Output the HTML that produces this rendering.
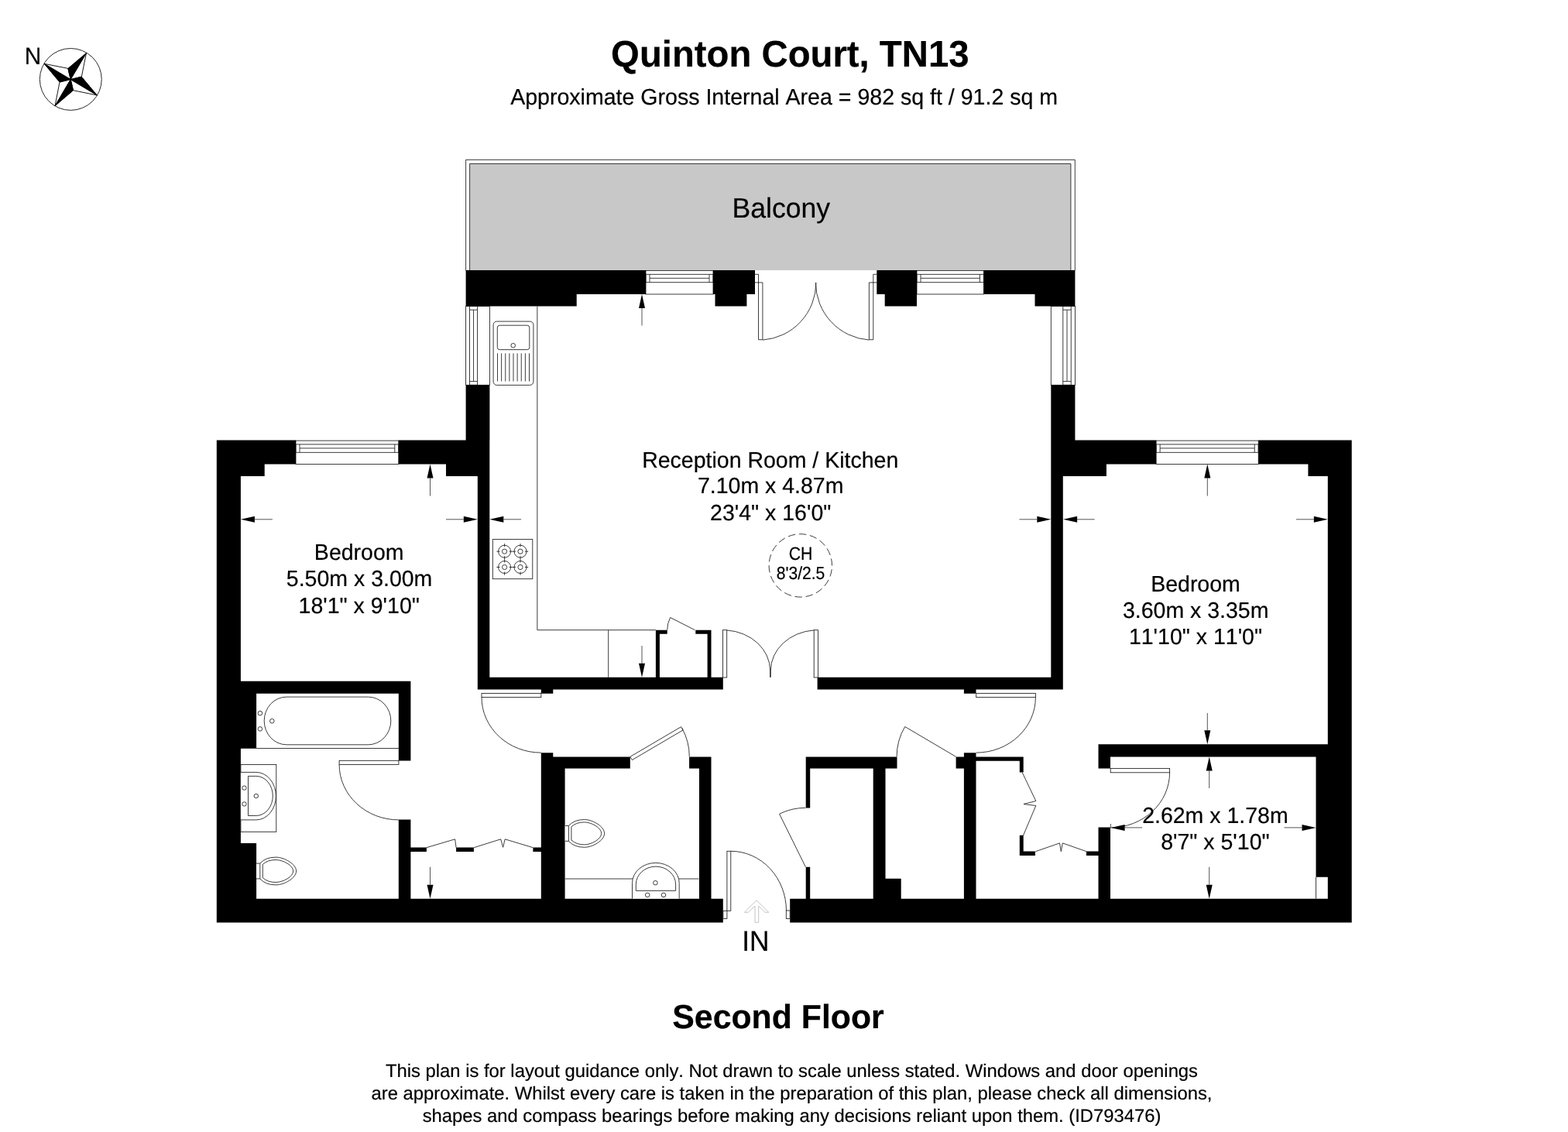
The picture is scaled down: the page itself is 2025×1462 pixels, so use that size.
<!DOCTYPE html>
<html lang="en">
<head>
<meta charset="utf-8">
<title>Quinton Court, TN13 - Floor Plan</title>
<style>
html,body{margin:0;padding:0;background:#fff;}
body{width:2025px;height:1462px;overflow:hidden;}
svg{display:block;filter:grayscale(1);}
text{font-family:"Liberation Sans",sans-serif;text-rendering:geometricPrecision;font-kerning:none;}
</style>
</head>
<body>
<svg width="2025" height="1462" viewBox="0 0 2025 1462">
<rect x="0" y="0" width="2025" height="1462" fill="#fff"/>
<rect x="606.60" y="211.50" width="776.30" height="137.50" fill="#c8c8c8" />
<path d="M601.6,349.5 L601.6,206.4 L1388.3,206.4 L1388.3,349.5" fill="none" stroke="#1a1a1a" stroke-width="0.85" />
<path d="M606.6,349.2 L606.6,211.5 L1382.9,211.5 L1382.9,349.2" fill="none" stroke="#1a1a1a" stroke-width="0.85" />
<rect x="834.00" y="349.50" width="87.00" height="30.50" fill="#fff" stroke="#1a1a1a" stroke-width="0.85" />
<rect x="834.00" y="354.30" width="87.00" height="10.40" fill="none" stroke="#1a1a1a" stroke-width="0.85" />
<line x1="839.00" y1="354.30" x2="839.00" y2="364.70" stroke="#1a1a1a" stroke-width="0.85"/>
<line x1="916.00" y1="354.30" x2="916.00" y2="364.70" stroke="#1a1a1a" stroke-width="0.85"/>
<line x1="839.00" y1="359.30" x2="916.00" y2="359.30" stroke="#1a1a1a" stroke-width="0.85"/>
<rect x="1184.00" y="349.50" width="86.40" height="30.50" fill="#fff" stroke="#1a1a1a" stroke-width="0.85" />
<rect x="1184.00" y="354.30" width="86.40" height="10.40" fill="none" stroke="#1a1a1a" stroke-width="0.85" />
<line x1="1189.00" y1="354.30" x2="1189.00" y2="364.70" stroke="#1a1a1a" stroke-width="0.85"/>
<line x1="1265.40" y1="354.30" x2="1265.40" y2="364.70" stroke="#1a1a1a" stroke-width="0.85"/>
<line x1="1189.00" y1="359.30" x2="1265.40" y2="359.30" stroke="#1a1a1a" stroke-width="0.85"/>
<rect x="382.00" y="569.10" width="132.80" height="30.40" fill="#fff" stroke="#1a1a1a" stroke-width="0.85" />
<rect x="382.00" y="573.90" width="132.80" height="10.40" fill="none" stroke="#1a1a1a" stroke-width="0.85" />
<line x1="387.00" y1="573.90" x2="387.00" y2="584.30" stroke="#1a1a1a" stroke-width="0.85"/>
<line x1="509.80" y1="573.90" x2="509.80" y2="584.30" stroke="#1a1a1a" stroke-width="0.85"/>
<line x1="387.00" y1="578.90" x2="509.80" y2="578.90" stroke="#1a1a1a" stroke-width="0.85"/>
<rect x="1493.10" y="569.10" width="132.10" height="30.40" fill="#fff" stroke="#1a1a1a" stroke-width="0.85" />
<rect x="1493.10" y="573.90" width="132.10" height="10.40" fill="none" stroke="#1a1a1a" stroke-width="0.85" />
<line x1="1498.10" y1="573.90" x2="1498.10" y2="584.30" stroke="#1a1a1a" stroke-width="0.85"/>
<line x1="1620.20" y1="573.90" x2="1620.20" y2="584.30" stroke="#1a1a1a" stroke-width="0.85"/>
<line x1="1498.10" y1="578.90" x2="1620.20" y2="578.90" stroke="#1a1a1a" stroke-width="0.85"/>
<rect x="601.60" y="395.50" width="30.80" height="101.80" fill="#fff" stroke="#1a1a1a" stroke-width="0.85" />
<rect x="606.50" y="395.50" width="10.10" height="101.80" fill="none" stroke="#1a1a1a" stroke-width="0.85" />
<line x1="606.50" y1="400.20" x2="616.60" y2="400.20" stroke="#1a1a1a" stroke-width="0.85"/>
<line x1="606.50" y1="492.60" x2="616.60" y2="492.60" stroke="#1a1a1a" stroke-width="0.85"/>
<line x1="611.55" y1="400.20" x2="611.55" y2="492.60" stroke="#1a1a1a" stroke-width="0.85"/>
<rect x="1357.30" y="395.50" width="31.10" height="101.80" fill="#fff" stroke="#1a1a1a" stroke-width="0.85" />
<rect x="1372.80" y="395.50" width="10.40" height="101.80" fill="none" stroke="#1a1a1a" stroke-width="0.85" />
<line x1="1372.80" y1="400.20" x2="1383.20" y2="400.20" stroke="#1a1a1a" stroke-width="0.85"/>
<line x1="1372.80" y1="492.60" x2="1383.20" y2="492.60" stroke="#1a1a1a" stroke-width="0.85"/>
<line x1="1378.00" y1="400.20" x2="1378.00" y2="492.60" stroke="#1a1a1a" stroke-width="0.85"/>
<path d="M601.60,349.00H834.00V380.00H601.60ZM601.60,380.00H744.70V395.50H601.60ZM921.00,349.00H975.00V380.00H921.00ZM923.50,380.00H964.40V395.50H923.50ZM1132.30,349.00H1184.00V380.00H1132.30ZM1142.70,380.00H1184.00V395.50H1142.70ZM1270.40,349.00H1388.40V380.00H1270.40ZM1336.50,380.00H1388.40V395.50H1336.50ZM601.60,497.30H632.40V568.60H601.60ZM1357.30,497.30H1388.40V568.60H1357.30ZM279.80,568.60H382.00V599.50H279.80ZM279.80,599.50H341.70V615.00H279.80ZM514.80,568.60H632.30V599.50H514.80ZM576.00,599.50H632.30V615.00H576.00ZM279.80,568.60H310.90V1191.40H279.80ZM616.80,615.00H632.30V890.40H616.80ZM616.80,874.80H933.80V890.40H616.80ZM1055.60,874.80H1372.80V890.40H1055.60ZM1357.30,568.60H1372.80V890.40H1357.30ZM1357.30,568.60H1493.10V599.50H1357.30ZM1357.30,599.50H1428.90V615.00H1357.30ZM1625.20,568.60H1745.70V599.50H1625.20ZM1689.40,599.50H1745.70V615.00H1689.40ZM1714.80,568.60H1745.70V1191.40H1714.80ZM279.80,1160.70H933.80V1191.40H279.80ZM1020.20,1160.70H1745.70V1191.40H1020.20ZM279.80,879.80H530.40V895.80H279.80ZM279.80,895.80H331.10V966.70H279.80ZM514.80,879.80H530.40V982.50H514.80ZM279.80,1089.10H331.10V1160.70H279.80ZM514.80,1058.50H530.40V1160.70H514.80ZM530.40,1094.60H550.90V1100.00H530.40ZM589.10,1094.60H611.90V1100.00H589.10ZM688.40,1094.60H698.80V1100.00H688.40ZM698.80,977.50H813.80V992.60H698.80ZM698.80,972.30H714.30V977.50H698.80ZM698.80,977.50H729.60V1160.70H698.80ZM890.10,977.50H918.50V992.60H890.10ZM903.00,977.50H918.50V1160.70H903.00ZM698.80,890.40H714.30V895.80H698.80ZM1040.70,977.50H1158.50V992.60H1040.70ZM1040.70,992.60H1046.20V1043.50H1040.70ZM1040.70,1119.80H1046.20V1160.70H1040.70ZM1127.70,992.60H1143.50V1160.70H1127.70ZM1127.70,1134.80H1163.70V1160.70H1127.70ZM1234.60,977.50H1260.50V992.60H1234.60ZM1244.90,972.30H1260.50V1160.70H1244.90ZM1244.90,890.40H1260.50V895.80H1244.90ZM1260.50,977.50H1321.70V982.70H1260.50ZM1316.80,977.50H1321.70V997.50H1316.80ZM1316.80,1078.80H1321.70V1105.00H1316.80ZM1316.80,1099.50H1337.00V1105.00H1316.80ZM1403.00,1099.50H1418.50V1105.00H1403.00ZM1418.50,1068.60H1434.00V1160.70H1418.50ZM1418.50,961.20H1745.70V977.50H1418.50ZM1418.50,977.50H1434.00V992.60H1418.50ZM1699.50,977.50H1745.70V1132.80H1699.50ZM846.90,813.80H851.90V874.80H846.90ZM846.90,813.80H861.70V818.80H846.90ZM898.30,813.80H918.50V818.80H898.30ZM913.60,813.80H918.50V874.80H913.60Z" fill="#000" fill-rule="nonzero"/>
<line x1="1699.50" y1="1132.80" x2="1699.50" y2="1160.70" stroke="#1a1a1a" stroke-width="0.85"/>
<path d="M974.80,354.30 L979.50,354.30 L979.50,438.70 L984.90,438.70 L984.90,364.90 L974.80,364.90" fill="none" stroke="#1a1a1a" stroke-width="0.85" stroke-linejoin="miter"/>
<path d="M1053.90,364.90 A74.40,74.40 0 0 1 984.95,439.10" fill="none" stroke="#1a1a1a" stroke-width="0.85" />
<path d="M1132.40,354.30 L1127.80,354.30 L1127.80,438.70 L1122.40,438.70 L1122.40,364.90 L1132.40,364.90" fill="none" stroke="#1a1a1a" stroke-width="0.85" stroke-linejoin="miter"/>
<path d="M1122.35,439.10 A74.40,74.40 0 0 1 1053.40,364.90" fill="none" stroke="#1a1a1a" stroke-width="0.85" />
<rect x="933.50" y="813.70" width="5.20" height="61.30" fill="#fff" stroke="#1a1a1a" stroke-width="0.85" />
<rect x="1051.20" y="813.70" width="5.20" height="61.30" fill="#fff" stroke="#1a1a1a" stroke-width="0.85" />
<path d="M938.7,813.9 A61.1,52.3 0 0 1 994.6,866 L994.6,874.8" fill="none" stroke="#1a1a1a" stroke-width="0.85" />
<path d="M1051.2,813.9 A61.1,52.3 0 0 0 995.3,866 L995.3,874.8" fill="none" stroke="#1a1a1a" stroke-width="0.85" />
<path d="M897.40,813.70 L865.60,797.50" fill="none" stroke="#1a1a1a" stroke-width="0.85" stroke-linejoin="miter"/>
<path d="M861.70,813.70 A35.70,35.70 0 0 1 865.59,797.49" fill="none" stroke="#1a1a1a" stroke-width="0.85" />
<rect x="438.10" y="982.30" width="76.80" height="5.10" fill="#fff" stroke="#1a1a1a" stroke-width="0.85" />
<path d="M438.1,987.4 A76.8,71.5 0 0 0 514.9,1058.9" fill="none" stroke="#1a1a1a" stroke-width="0.85" />
<rect x="622.00" y="895.40" width="76.80" height="5.20" fill="#fff" stroke="#1a1a1a" stroke-width="0.85" />
<path d="M622,900.6 A76.8,71.5 0 0 0 698.8,972.1" fill="none" stroke="#1a1a1a" stroke-width="0.85" />
<rect x="1260.70" y="895.40" width="76.70" height="5.20" fill="#fff" stroke="#1a1a1a" stroke-width="0.85" />
<path d="M1337.4,900.6 A76.7,71.5 0 0 1 1260.7,972.1" fill="none" stroke="#1a1a1a" stroke-width="0.85" />
<rect x="1434.20" y="992.40" width="76.40" height="5.40" fill="#fff" stroke="#1a1a1a" stroke-width="0.85" />
<path d="M1510.6,997.8 A76.4,71.1 0 0 1 1434.2,1068.9" fill="none" stroke="#1a1a1a" stroke-width="0.85" />
<path d="M813.90,977.30 L879.59,938.69 L882.08,942.91 L816.38,981.52 Z" fill="#fff" stroke="#1a1a1a" stroke-width="0.85" stroke-linejoin="miter"/>
<path d="M880.76,940.32 A76.40,76.40 0 0 1 890.30,977.30" fill="none" stroke="#1a1a1a" stroke-width="0.85" />
<rect x="933.90" y="1176.30" width="5.00" height="10.10" fill="#fff" stroke="#1a1a1a" stroke-width="0.85" />
<rect x="938.90" y="1099.30" width="4.90" height="77.00" fill="#fff" stroke="#1a1a1a" stroke-width="0.85" />
<path d="M943.8,1099.3 A71.7,77 0 0 1 1015.5,1176.3" fill="none" stroke="#1a1a1a" stroke-width="0.85" />
<rect x="1015.30" y="1176.00" width="4.90" height="10.40" fill="#fff" stroke="#1a1a1a" stroke-width="0.85" />
<path d="M1040.40,1119.70 L1006.60,1051.30" fill="none" stroke="#1a1a1a" stroke-width="0.85" stroke-linejoin="miter"/>
<path d="M1006.55,1051.21 A76.40,76.40 0 0 1 1040.40,1043.30" fill="none" stroke="#1a1a1a" stroke-width="0.85" />
<path d="M1234.50,977.30 L1168.70,938.50" fill="none" stroke="#1a1a1a" stroke-width="0.85" stroke-linejoin="miter"/>
<path d="M1158.10,977.30 A76.40,76.40 0 0 1 1168.69,938.49" fill="none" stroke="#1a1a1a" stroke-width="0.85" />
<path d="M550.80,1094.70 L587.60,1083.80 L589.10,1094.70" fill="none" stroke="#1a1a1a" stroke-width="0.85" stroke-linejoin="miter"/>
<path d="M612.10,1094.70 L646.70,1083.80 L649.60,1094.30 L652.20,1083.80 L688.30,1094.70" fill="none" stroke="#1a1a1a" stroke-width="0.85" stroke-linejoin="miter"/>
<path d="M1320.30,997.90 L1337.80,1034.50 L1322.00,1038.50 L1337.80,1040.50 L1321.50,1079.00" fill="none" stroke="#1a1a1a" stroke-width="0.85" stroke-linejoin="miter"/>
<path d="M1337.40,1099.70 L1368.50,1088.90 L1370.30,1099.70 L1372.30,1088.90 L1403.10,1099.70" fill="none" stroke="#1a1a1a" stroke-width="0.85" stroke-linejoin="miter"/>
<path d="M693.85,395.50 L693.85,813.70 L846.90,813.70" fill="none" stroke="#1a1a1a" stroke-width="0.85" stroke-linejoin="miter"/>
<line x1="785.70" y1="813.70" x2="785.70" y2="874.80" stroke="#1a1a1a" stroke-width="0.85"/>
<rect x="637.10" y="415.10" width="51.80" height="82.30" fill="#fff" stroke="#1a1a1a" stroke-width="0.85" rx="4.5" ry="4.5"/>
<rect x="642.30" y="420.20" width="41.50" height="31.40" fill="#fff" stroke="#1a1a1a" stroke-width="0.85" rx="3" ry="3"/>
<circle cx="662.70" cy="446.20" r="2.80" fill="none" stroke="#1a1a1a" stroke-width="0.85" />
<line x1="642.50" y1="456.30" x2="642.50" y2="492.50" stroke="#1a1a1a" stroke-width="0.85"/>
<line x1="647.62" y1="456.30" x2="647.62" y2="492.50" stroke="#1a1a1a" stroke-width="0.85"/>
<line x1="652.75" y1="456.30" x2="652.75" y2="492.50" stroke="#1a1a1a" stroke-width="0.85"/>
<line x1="657.88" y1="456.30" x2="657.88" y2="492.50" stroke="#1a1a1a" stroke-width="0.85"/>
<line x1="663.00" y1="456.30" x2="663.00" y2="492.50" stroke="#1a1a1a" stroke-width="0.85"/>
<line x1="668.12" y1="456.30" x2="668.12" y2="492.50" stroke="#1a1a1a" stroke-width="0.85"/>
<line x1="673.25" y1="456.30" x2="673.25" y2="492.50" stroke="#1a1a1a" stroke-width="0.85"/>
<line x1="678.38" y1="456.30" x2="678.38" y2="492.50" stroke="#1a1a1a" stroke-width="0.85"/>
<line x1="683.50" y1="456.30" x2="683.50" y2="492.50" stroke="#1a1a1a" stroke-width="0.85"/>
<rect x="636.30" y="696.60" width="51.50" height="51.10" fill="#fff" stroke="#1a1a1a" stroke-width="0.85" />
<circle cx="651.60" cy="712.20" r="8.00" fill="none" stroke="#1a1a1a" stroke-width="0.85" />
<circle cx="651.60" cy="712.20" r="3.10" fill="none" stroke="#1a1a1a" stroke-width="0.85" />
<line x1="657.60" y1="712.20" x2="661.80" y2="712.20" stroke="#1a1a1a" stroke-width="0.85"/>
<line x1="645.60" y1="712.20" x2="641.40" y2="712.20" stroke="#1a1a1a" stroke-width="0.85"/>
<line x1="651.60" y1="718.20" x2="651.60" y2="722.40" stroke="#1a1a1a" stroke-width="0.85"/>
<line x1="651.60" y1="706.20" x2="651.60" y2="702.00" stroke="#1a1a1a" stroke-width="0.85"/>
<circle cx="651.60" cy="732.50" r="8.00" fill="none" stroke="#1a1a1a" stroke-width="0.85" />
<circle cx="651.60" cy="732.50" r="3.10" fill="none" stroke="#1a1a1a" stroke-width="0.85" />
<line x1="657.60" y1="732.50" x2="661.80" y2="732.50" stroke="#1a1a1a" stroke-width="0.85"/>
<line x1="645.60" y1="732.50" x2="641.40" y2="732.50" stroke="#1a1a1a" stroke-width="0.85"/>
<line x1="651.60" y1="738.50" x2="651.60" y2="742.70" stroke="#1a1a1a" stroke-width="0.85"/>
<line x1="651.60" y1="726.50" x2="651.60" y2="722.30" stroke="#1a1a1a" stroke-width="0.85"/>
<circle cx="672.00" cy="712.20" r="8.00" fill="none" stroke="#1a1a1a" stroke-width="0.85" />
<circle cx="672.00" cy="712.20" r="3.10" fill="none" stroke="#1a1a1a" stroke-width="0.85" />
<line x1="678.00" y1="712.20" x2="682.20" y2="712.20" stroke="#1a1a1a" stroke-width="0.85"/>
<line x1="666.00" y1="712.20" x2="661.80" y2="712.20" stroke="#1a1a1a" stroke-width="0.85"/>
<line x1="672.00" y1="718.20" x2="672.00" y2="722.40" stroke="#1a1a1a" stroke-width="0.85"/>
<line x1="672.00" y1="706.20" x2="672.00" y2="702.00" stroke="#1a1a1a" stroke-width="0.85"/>
<circle cx="672.00" cy="732.50" r="8.00" fill="none" stroke="#1a1a1a" stroke-width="0.85" />
<circle cx="672.00" cy="732.50" r="3.10" fill="none" stroke="#1a1a1a" stroke-width="0.85" />
<line x1="678.00" y1="732.50" x2="682.20" y2="732.50" stroke="#1a1a1a" stroke-width="0.85"/>
<line x1="666.00" y1="732.50" x2="661.80" y2="732.50" stroke="#1a1a1a" stroke-width="0.85"/>
<line x1="672.00" y1="738.50" x2="672.00" y2="742.70" stroke="#1a1a1a" stroke-width="0.85"/>
<line x1="672.00" y1="726.50" x2="672.00" y2="722.30" stroke="#1a1a1a" stroke-width="0.85"/>
<line x1="331.10" y1="966.50" x2="515.00" y2="966.50" stroke="#1a1a1a" stroke-width="0.85"/>
<path d="M370,900.1 L475.5,900.1 A29.3,30.85 0 0 1 504.8,930.95 A29.3,30.85 0 0 1 475.5,961.8 L370,961.8 A28.8,30.85 0 0 1 341.2,930.95 A28.8,30.85 0 0 1 370,900.1 Z" fill="#fff" stroke="#1a1a1a" stroke-width="0.85" />
<circle cx="335.90" cy="921.10" r="2.80" fill="none" stroke="#1a1a1a" stroke-width="0.85" />
<circle cx="335.90" cy="941.40" r="2.80" fill="none" stroke="#1a1a1a" stroke-width="0.85" />
<circle cx="351.30" cy="931.20" r="2.80" fill="none" stroke="#1a1a1a" stroke-width="0.85" />
<rect x="310.90" y="987.40" width="45.90" height="86.90" fill="#fff" stroke="#1a1a1a" stroke-width="0.85" />
<path d="M310.9,997.4 L330.8,997.4 A25.6,30.75 0 0 1 356.4,1028.15 A25.6,30.75 0 0 1 330.8,1058.9 L310.9,1058.9" fill="#fff" stroke="#1a1a1a" stroke-width="0.85" />
<path d="M320.5,1002.4 L330.8,1002.4 A21.5,25.55 0 0 1 352.3,1027.95 A21.5,25.55 0 0 1 330.8,1053.5 L320.5,1053.5 Z" fill="#fff" stroke="#1a1a1a" stroke-width="0.85" />
<circle cx="315.50" cy="1017.60" r="2.70" fill="none" stroke="#1a1a1a" stroke-width="0.85" />
<circle cx="315.50" cy="1038.40" r="2.70" fill="none" stroke="#1a1a1a" stroke-width="0.85" />
<circle cx="330.80" cy="1028.00" r="2.70" fill="none" stroke="#1a1a1a" stroke-width="0.85" />
<path d="M331.10,1115.07 L335.80,1115.07 A24.4,17.9 0 0 1 356.10,1107.10 C367.23,1107.10 382.60,1116.05 382.60,1125.00 C382.60,1133.95 367.23,1142.90 356.10,1142.90 A24.4,17.9 0 0 1 335.80,1134.93 L331.10,1134.93" fill="#fff" stroke="#1a1a1a" stroke-width="0.85" />
<line x1="335.80" y1="1115.07" x2="335.80" y2="1134.93" stroke="#1a1a1a" stroke-width="0.85"/>
<path d="M339.30,1116.37 A20.9,14.5 0 0 1 356.10,1110.50 C365.59,1110.50 378.70,1117.75 378.70,1125.00 C378.70,1132.25 365.59,1139.50 356.10,1139.50 A20.9,14.5 0 0 1 339.30,1133.63 Z" fill="#fff" stroke="#1a1a1a" stroke-width="0.85" />
<path d="M729.70,1066.47 L734.40,1066.47 A24.4,17.9 0 0 1 754.70,1058.50 C765.58,1058.50 780.60,1067.45 780.60,1076.40 C780.60,1085.35 765.58,1094.30 754.70,1094.30 A24.4,17.9 0 0 1 734.40,1086.33 L729.70,1086.33" fill="#fff" stroke="#1a1a1a" stroke-width="0.85" />
<line x1="734.40" y1="1066.47" x2="734.40" y2="1086.33" stroke="#1a1a1a" stroke-width="0.85"/>
<path d="M737.90,1067.77 A20.9,14.5 0 0 1 754.70,1061.90 C763.94,1061.90 776.70,1069.15 776.70,1076.40 C776.70,1083.65 763.94,1090.90 754.70,1090.90 A20.9,14.5 0 0 1 737.90,1085.03 Z" fill="#fff" stroke="#1a1a1a" stroke-width="0.85" />
<line x1="729.70" y1="1135.00" x2="902.50" y2="1135.00" stroke="#1a1a1a" stroke-width="0.85"/>
<path d="M816.5,1160.6 L816.5,1140.5 A30.35,26.1 0 0 1 846.85,1114.4 A30.35,26.1 0 0 1 877.2,1140.5 L877.2,1160.6" fill="#fff" stroke="#1a1a1a" stroke-width="0.85" />
<path d="M821.3,1150.4 L821.3,1142.2 A25.65,23.1 0 0 1 846.95,1119.1 A25.65,23.1 0 0 1 872.6,1142.2 L872.6,1150.4 Z" fill="#fff" stroke="#1a1a1a" stroke-width="0.85" />
<circle cx="846.40" cy="1140.20" r="2.80" fill="none" stroke="#1a1a1a" stroke-width="0.85" />
<circle cx="836.20" cy="1155.90" r="2.80" fill="none" stroke="#1a1a1a" stroke-width="0.85" />
<circle cx="857.00" cy="1155.90" r="2.80" fill="none" stroke="#1a1a1a" stroke-width="0.85" />
<line x1="829.00" y1="398.00" x2="829.00" y2="420.50" stroke="#555" stroke-width="1.0"/>
<polygon points="829.00,380.00 833.00,398.00 825.00,398.00" fill="#000" stroke="none" stroke-width="1"/>
<line x1="829.00" y1="856.80" x2="829.00" y2="834.10" stroke="#555" stroke-width="1.0"/>
<polygon points="829.00,874.80 825.00,856.80 833.00,856.80" fill="#000" stroke="none" stroke-width="1"/>
<line x1="650.30" y1="670.80" x2="673.10" y2="670.80" stroke="#555" stroke-width="1.0"/>
<polygon points="632.30,670.80 650.30,666.80 650.30,674.80" fill="#000" stroke="none" stroke-width="1"/>
<line x1="1339.30" y1="670.80" x2="1316.50" y2="670.80" stroke="#555" stroke-width="1.0"/>
<polygon points="1357.30,670.80 1339.30,674.80 1339.30,666.80" fill="#000" stroke="none" stroke-width="1"/>
<line x1="328.90" y1="670.80" x2="351.90" y2="670.80" stroke="#555" stroke-width="1.0"/>
<polygon points="310.90,670.80 328.90,666.80 328.90,674.80" fill="#000" stroke="none" stroke-width="1"/>
<line x1="598.80" y1="670.80" x2="576.00" y2="670.80" stroke="#555" stroke-width="1.0"/>
<polygon points="616.80,670.80 598.80,674.80 598.80,666.80" fill="#000" stroke="none" stroke-width="1"/>
<line x1="555.50" y1="617.50" x2="555.50" y2="640.50" stroke="#555" stroke-width="1.0"/>
<polygon points="555.50,599.50 559.50,617.50 551.50,617.50" fill="#000" stroke="none" stroke-width="1"/>
<line x1="555.50" y1="1142.70" x2="555.50" y2="1119.70" stroke="#555" stroke-width="1.0"/>
<polygon points="555.50,1160.70 551.50,1142.70 559.50,1142.70" fill="#000" stroke="none" stroke-width="1"/>
<line x1="1391.10" y1="670.80" x2="1413.60" y2="670.80" stroke="#555" stroke-width="1.0"/>
<polygon points="1373.10,670.80 1391.10,666.80 1391.10,674.80" fill="#000" stroke="none" stroke-width="1"/>
<line x1="1696.80" y1="670.80" x2="1674.00" y2="670.80" stroke="#555" stroke-width="1.0"/>
<polygon points="1714.80,670.80 1696.80,674.80 1696.80,666.80" fill="#000" stroke="none" stroke-width="1"/>
<line x1="1559.30" y1="617.50" x2="1559.30" y2="640.50" stroke="#555" stroke-width="1.0"/>
<polygon points="1559.30,599.50 1563.30,617.50 1555.30,617.50" fill="#000" stroke="none" stroke-width="1"/>
<line x1="1559.30" y1="943.20" x2="1559.30" y2="920.90" stroke="#555" stroke-width="1.0"/>
<polygon points="1559.30,961.20 1555.30,943.20 1563.30,943.20" fill="#000" stroke="none" stroke-width="1"/>
<line x1="1561.70" y1="995.50" x2="1561.70" y2="1018.00" stroke="#555" stroke-width="1.0"/>
<polygon points="1561.70,977.50 1565.70,995.50 1557.70,995.50" fill="#000" stroke="none" stroke-width="1"/>
<line x1="1561.70" y1="1142.70" x2="1561.70" y2="1119.70" stroke="#555" stroke-width="1.0"/>
<polygon points="1561.70,1160.70 1557.70,1142.70 1565.70,1142.70" fill="#000" stroke="none" stroke-width="1"/>
<line x1="1452.60" y1="1068.90" x2="1475.10" y2="1068.90" stroke="#555" stroke-width="1.0"/>
<polygon points="1434.60,1068.90 1452.60,1064.90 1452.60,1072.90" fill="#000" stroke="none" stroke-width="1"/>
<line x1="1681.50" y1="1068.90" x2="1658.50" y2="1068.90" stroke="#555" stroke-width="1.0"/>
<polygon points="1699.50,1068.90 1681.50,1072.90 1681.50,1064.90" fill="#000" stroke="none" stroke-width="1"/>
<line x1="1434.40" y1="1064.00" x2="1434.40" y2="1069.00" stroke="#555" stroke-width="1.0"/>
<path d="M977,1162.7 L992.8,1178.3 L988,1178.3 L979.7,1170.2 L979.7,1191.3 L975,1191.3 L975,1170.2 L966.2,1178.3 L961.4,1178.3 Z" fill="#fff" stroke="#c4c4c4" stroke-width="1" />
<text transform="translate(1020.30,85.70) scale(1,1.015)" font-size="47.3" font-weight="bold" text-anchor="middle" fill="#000" stroke="#000" stroke-width="0.2" >Quinton Court, TN13</text>
<text transform="translate(1012.60,134.60) scale(1,1.015)" font-size="28.55" font-weight="normal" text-anchor="middle" fill="#000" stroke="#000" stroke-width="0.2" >Approximate Gross Internal Area = 982 sq ft / 91.2 sq m</text>
<text transform="translate(1005.00,1328.00) scale(1,1.015)" font-size="42.8" font-weight="bold" text-anchor="middle" fill="#000" stroke="#000" stroke-width="0.2" >Second Floor</text>
<text transform="translate(1022.50,1390.60) scale(1,1.0)" font-size="23.8" font-weight="normal" text-anchor="middle" fill="#000" stroke="#000" stroke-width="0.2" >This plan is for layout guidance only. Not drawn to scale unless stated. Windows and door openings</text>
<text transform="translate(1022.50,1420.40) scale(1,1.0)" font-size="23.8" font-weight="normal" text-anchor="middle" fill="#000" stroke="#000" stroke-width="0.2" >are approximate. Whilst every care is taken in the preparation of this plan, please check all dimensions,</text>
<text transform="translate(1022.50,1449.20) scale(1,1.0)" font-size="23.8" font-weight="normal" text-anchor="middle" fill="#000" stroke="#000" stroke-width="0.2" >shapes and compass bearings before making any decisions reliant upon them. (ID793476)</text>
<text transform="translate(1008.80,281.20) scale(1,1.015)" font-size="35.6" font-weight="normal" text-anchor="middle" fill="#000" stroke="#000" stroke-width="0.2" >Balcony</text>
<text transform="translate(463.70,723.00) scale(1,1.015)" font-size="28.5" font-weight="normal" text-anchor="middle" fill="#000" stroke="#000" stroke-width="0.2" >Bedroom</text>
<text transform="translate(464.10,757.00) scale(1,1.015)" font-size="28.5" font-weight="normal" text-anchor="middle" fill="#000" stroke="#000" stroke-width="0.2" >5.50m x 3.00m</text>
<text transform="translate(463.70,791.50) scale(1,1.015)" font-size="28.5" font-weight="normal" text-anchor="middle" fill="#000" stroke="#000" stroke-width="0.2" >18'1" x 9'10"</text>
<text transform="translate(994.70,603.60) scale(1,1.015)" font-size="28.5" font-weight="normal" text-anchor="middle" fill="#000" stroke="#000" stroke-width="0.2" >Reception Room / Kitchen</text>
<text transform="translate(995.20,637.10) scale(1,1.015)" font-size="28.5" font-weight="normal" text-anchor="middle" fill="#000" stroke="#000" stroke-width="0.2" >7.10m x 4.87m</text>
<text transform="translate(995.20,671.80) scale(1,1.015)" font-size="28.5" font-weight="normal" text-anchor="middle" fill="#000" stroke="#000" stroke-width="0.2" >23'4" x 16'0"</text>
<text transform="translate(1544.00,764.40) scale(1,1.015)" font-size="28.5" font-weight="normal" text-anchor="middle" fill="#000" stroke="#000" stroke-width="0.2" >Bedroom</text>
<text transform="translate(1544.20,797.60) scale(1,1.015)" font-size="28.5" font-weight="normal" text-anchor="middle" fill="#000" stroke="#000" stroke-width="0.2" >3.60m x 3.35m</text>
<text transform="translate(1544.00,832.30) scale(1,1.015)" font-size="28.5" font-weight="normal" text-anchor="middle" fill="#000" stroke="#000" stroke-width="0.2" >11'10" x 11'0"</text>
<text transform="translate(1569.40,1063.00) scale(1,1.015)" font-size="28.5" font-weight="normal" text-anchor="middle" fill="#000" stroke="#000" stroke-width="0.2" >2.62m x 1.78m</text>
<text transform="translate(1569.40,1097.00) scale(1,1.015)" font-size="28.5" font-weight="normal" text-anchor="middle" fill="#000" stroke="#000" stroke-width="0.2" >8'7" x 5'10"</text>
<text transform="translate(1034.00,722.90) scale(1,1.11)" font-size="21.3" font-weight="normal" text-anchor="middle" fill="#000" stroke="#000" stroke-width="0.2" >CH</text>
<text transform="translate(1034.00,747.60) scale(1,1.09)" font-size="21.1" font-weight="normal" text-anchor="middle" fill="#000" stroke="#000" stroke-width="0.2" >8'3/2.5</text>
<text transform="translate(975.90,1227.70) scale(1,1.05)" font-size="35.3" font-weight="normal" text-anchor="middle" fill="#000" stroke="#000" stroke-width="0.2" >IN</text>
<text transform="translate(42.55,82.85) scale(1,1.04)" font-size="29.8" font-weight="normal" text-anchor="middle" fill="#000" stroke="#000" stroke-width="0.2" >N</text>
<circle cx="1033.80" cy="730.40" r="40.70" fill="none" stroke="#1a1a1a" stroke-width="0.85" stroke-dasharray="9.5 4.7" stroke-dashoffset="9.3"/>
<circle cx="91.30" cy="102.45" r="39.95" fill="none" stroke="#1a1a1a" stroke-width="0.95" />
<polygon points="57.10,82.30 77.00,106.10 91.20,102.60" fill="#000" stroke="#000" stroke-width="0.6"/>
<polygon points="57.10,82.30 87.90,88.40 91.20,102.60" fill="#fff" stroke="#000" stroke-width="0.9"/>
<polygon points="111.50,68.50 87.90,88.40 91.20,102.60" fill="#000" stroke="#000" stroke-width="0.6"/>
<polygon points="111.50,68.50 105.30,99.20 91.20,102.60" fill="#fff" stroke="#000" stroke-width="0.9"/>
<polygon points="125.30,123.00 105.30,99.20 91.20,102.60" fill="#000" stroke="#000" stroke-width="0.6"/>
<polygon points="125.30,123.00 94.50,116.70 91.20,102.60" fill="#fff" stroke="#000" stroke-width="0.9"/>
<polygon points="71.00,136.80 94.50,116.70 91.20,102.60" fill="#000" stroke="#000" stroke-width="0.6"/>
<polygon points="71.00,136.80 77.00,106.10 91.20,102.60" fill="#fff" stroke="#000" stroke-width="0.9"/>
<polygon points="57.10,82.30 77.00,106.10 91.20,102.60" fill="#000" stroke="#000" stroke-width="0.6"/>
<polygon points="111.50,68.50 87.90,88.40 91.20,102.60" fill="#000" stroke="#000" stroke-width="0.6"/>
<polygon points="125.30,123.00 105.30,99.20 91.20,102.60" fill="#000" stroke="#000" stroke-width="0.6"/>
<polygon points="71.00,136.80 94.50,116.70 91.20,102.60" fill="#000" stroke="#000" stroke-width="0.6"/>
</svg>
</body>
</html>
